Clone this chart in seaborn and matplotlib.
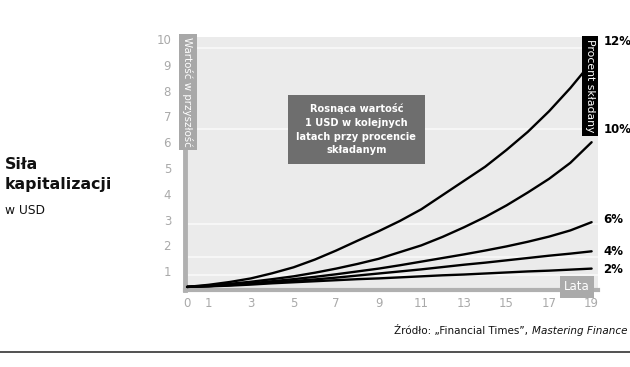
import pandas as pd
import seaborn as sns
import matplotlib.pyplot as plt

# values (y scale as drawn)
years = list(range(20))
r12 = [0.39, 0.47, 0.58, 0.72, 0.92, 1.15, 1.45, 1.80, 2.18, 2.55,
       2.95, 3.40, 3.95, 4.50, 5.05, 5.70, 6.40, 7.20, 8.10, 9.10]
r10 = [0.39, 0.44, 0.51, 0.59, 0.69, 0.80, 0.94, 1.10, 1.28, 1.48,
       1.74, 2.00, 2.33, 2.70, 3.10, 3.55, 4.05, 4.58, 5.20, 6.00]
r6 = [0.39, 0.42, 0.47, 0.53, 0.61, 0.69, 0.78, 0.88, 0.99, 1.10,
      1.23, 1.37, 1.51, 1.65, 1.80, 1.96, 2.14, 2.34, 2.58, 2.90]
r4 = [0.39, 0.42, 0.46, 0.51, 0.56, 0.62, 0.68, 0.75, 0.83, 0.91,
      0.99, 1.07, 1.16, 1.25, 1.33, 1.42, 1.51, 1.60, 1.68, 1.77]
r2 = [0.39, 0.41, 0.44, 0.48, 0.53, 0.57, 0.61, 0.65, 0.69, 0.72,
      0.76, 0.80, 0.84, 0.87, 0.91, 0.95, 0.99, 1.02, 1.06, 1.10]

rate_labels = ["12%", "10%", "6%", "4%", "2%"]
label_y = [9.9, 6.5, 3.0, 1.77, 1.08]
x_ticks = [0, 1, 3, 5, 7, 9, 11, 13, 15, 17, 19]
y_ticks = list(range(1, 11))
band_levels = [9.65, 6.51, 2.83, 1.55, 0.85]

rows = []
for lab, vals in zip(rate_labels, [r12, r10, r6, r4, r2]):
    for yr, v in zip(years, vals):
        rows.append([lab, yr, v])
df = pd.DataFrame(rows, columns=["rate", "year", "value"])

sns.set_style("white")
plt.rcParams["font.family"] = ["DejaVu Sans"]

fig = plt.figure(figsize=(6.3, 3.67), dpi=100)
W, H = 630, 367
ax = fig.add_axes([185 / W, 1 - 290 / H, (598 - 185) / W, (290 - 37) / H])
ax.set_facecolor("#ebebeb")

for lvl in band_levels:
    ax.axhline(lvl, color="#f7f7f7", lw=1.4, zorder=0.5)

sns.lineplot(data=df, x="year", y="value", hue="rate", hue_order=rate_labels,
             palette=["black"] * 5, linewidth=1.7, legend=False, ax=ax,
             clip_on=False, zorder=3)

ax.set_xlim(-0.1, 19.3)
ax.set_ylim(0.27, 10.08)
ax.set_xticks(x_ticks)
ax.set_yticks(y_ticks)
ax.tick_params(length=0, colors="#a9a9a9", labelsize=8.5)
ax.tick_params(axis="y", pad=10)
ax.tick_params(axis="x", pad=5)
ax.set_xlabel("")
ax.set_ylabel("")
for s in ["top", "right"]:
    ax.spines[s].set_visible(False)
ax.spines["left"].set_color("#b0b0b0")
ax.spines["left"].set_linewidth(3.5)
ax.spines["bottom"].set_color("#b0b0b0")
ax.spines["bottom"].set_linewidth(3)

# axis title boxes
fig.text(188 / W, 1 - 92 / H, "Wartość w przyszłość", rotation=-90, ha="center",
         va="center", color="white", fontsize=7.4,
         bbox=dict(boxstyle="square,pad=0.3", fc="#a8a8a8", ec="none"))
fig.text(577 / W, 1 - 287 / H, "Lata", ha="center", va="center", color="white",
         fontsize=8.5, bbox=dict(boxstyle="square,pad=0.35", fc="#aaaaaa", ec="none"))
fig.text(590 / W, 1 - 86 / H, "Procent składany", rotation=-90, ha="center",
         va="center", color="white", fontsize=7.8,
         bbox=dict(boxstyle="square,pad=0.3", fc="black", ec="none"))

ax.text(7.95, 6.5, "Rosnąca wartość\n1 USD w kolejnych\nlatach przy procencie\nskładanym",
        ha="center", va="center", color="white", fontsize=7.1, fontweight="bold",
        linespacing=1.45, zorder=4,
        bbox=dict(boxstyle="square,pad=0.85", fc="#6e6e6e", ec="none"))

for lab, ly in zip(rate_labels, label_y):
    ax.text(19.55, ly, lab, ha="left", va="center", fontsize=8.5,
            fontweight="bold", color="black", clip_on=False)

# left title
fig.text(5 / W, 1 - 189 / H, "Siła\nkapitalizacji", ha="left", va="baseline",
         fontsize=11.3, fontweight="bold", color="#111111", linespacing=1.4)
fig.text(5 / W, 1 - 214 / H, "w USD", ha="left", va="baseline", fontsize=8.8,
         color="#111111")

# source line
src_it = fig.text(627 / W, 1 - 334 / H, "Mastering Finance", ha="right", va="baseline",
                  fontsize=7.5, style="italic", color="#111111")
src = fig.text(0, 0, "Źródło: „Financial Times”, ", fontsize=7.5,
               color="#111111", ha="right", va="baseline")
fig.canvas.draw()
bb = src_it.get_window_extent()
src.set_position((bb.x0 / W, 1 - 334 / H))

fig.add_artist(plt.Line2D([0, 1], [1 - 352 / H, 1 - 352 / H], color="#333333", lw=1.2))

fig.savefig("out.png", dpi=100)
